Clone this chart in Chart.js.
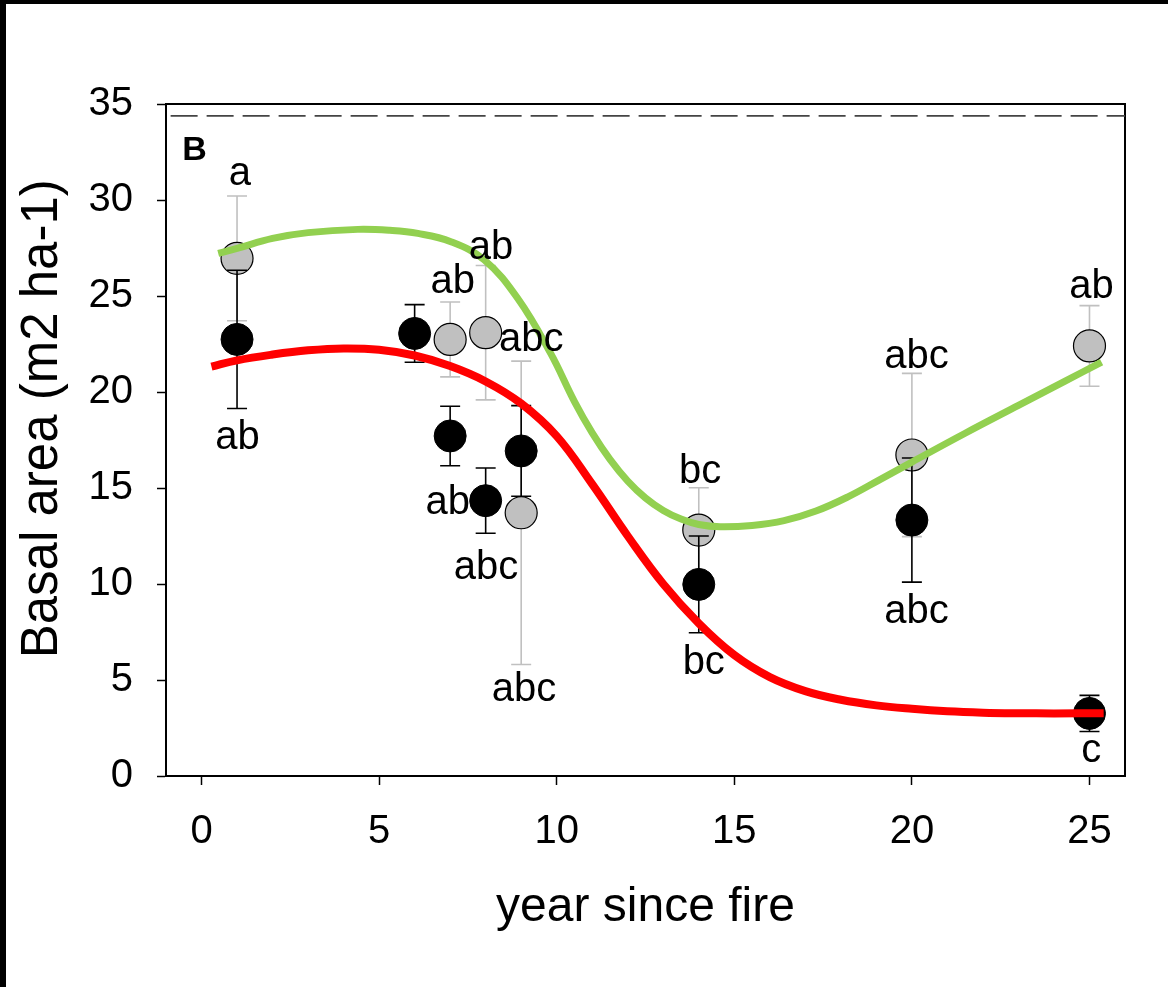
<!DOCTYPE html>
<html>
<head>
<meta charset="utf-8">
<script src="https://cdn.jsdelivr.net/npm/chart.js@4.4.0/dist/chart.umd.min.js"></script>
<style>
html,body{margin:0;padding:0;background:#fff;}
#wrap{position:relative;width:1168px;height:987px;overflow:hidden;}
#c{position:absolute;left:0;top:0;}
.bt{position:absolute;left:0;top:0;width:1168px;height:4px;background:#000;}
.bl{position:absolute;left:0;top:0;width:6px;height:987px;background:#000;}
</style>
</head>
<body>
<div id="wrap"><canvas id="c" width="1168" height="987"></canvas><div class="bt"></div><div class="bl"></div></div>
<script>
// ---- data ----
const yearsGray  = [1, 7, 8, 9, 14, 20, 25];
const basalGray  = [26.96, 22.74, 23.09, 13.71, 12.81, 16.72, 22.40];
const errGray    = [3.25, 1.95, 3.50, 7.90, 2.20, 4.25, 2.10];

const yearsBlack = [1, 6, 7, 8, 9, 14, 20, 25];
const basalBlack = [22.74, 23.05, 17.71, 14.34, 16.93, 9.98, 13.33, 3.26];
const errBlack   = [3.60, 1.50, 1.55, 1.70, 2.36, 2.52, 3.23, 0.94];

const greenFitX = [0.47, 1.0, 2.0, 3.0, 4.4, 5.3, 6.09, 7.02, 7.96, 8.9, 9.83, 10.5, 11.0, 11.5, 12.0, 12.5, 13.0, 13.5, 14.0, 14.6, 15.5, 16.4, 17.3, 18.2, 19.1, 20.0, 21.5, 23.0, 24.3, 25.34];
const greenFitY = [27.22, 27.48, 28.0, 28.3, 28.47, 28.42, 28.26, 27.83, 26.88, 24.88, 22.01, 19.5, 17.87, 16.49, 15.36, 14.48, 13.83, 13.38, 13.1, 12.98, 13.05, 13.3, 13.8, 14.54, 15.44, 16.35, 17.85, 19.3, 20.55, 21.56];

const redFitX = [0.28, 1.0, 2.0, 3.0, 4.0, 5.0, 6.0, 7.0, 8.0, 9.0, 10.0, 11.0, 12.0, 13.0, 14.0, 15.0, 16.0, 17.0, 18.0, 19.0, 20.0, 21.0, 22.0, 23.0, 24.0, 25.4];
const redFitY = [21.32, 21.65, 21.95, 22.17, 22.27, 22.2, 21.9, 21.35, 20.55, 19.4, 17.7, 15.2, 12.5, 10.0, 7.95, 6.3, 5.15, 4.42, 3.97, 3.68, 3.5, 3.37, 3.3, 3.27, 3.26, 3.27];

const refLineX = [-0.87, 26];
const refLineY = [34.38, 34.38];

const xTicks = [0, 5, 10, 15, 20, 25];
const yTicks = [0, 5, 10, 15, 20, 25, 30, 35];

const letterText = ['a', 'ab', 'ab', 'ab', 'abc', 'ab', 'abc', 'abc', 'bc', 'bc', 'abc', 'abc', 'ab', 'c'];
const letterX    = [1.08, 1.01, 7.07, 8.15, 9.28, 6.93, 8.01, 9.08, 14.04, 14.14, 20.13, 20.13, 25.06, 25.05];
const letterY    = [30.78, 17.03, 25.18, 26.95, 22.14, 13.63, 10.24, 3.91, 15.28, 5.30, 21.27, 7.99, 24.88, 0.73];

const panelLabel = 'B';
const panelX = -0.2, panelY = 32.08;

const xTitle = 'year since fire';
const yTitle = '   Basal area (m2 ha-1)';

// ---- build ----
const FONT = "Arial, 'Liberation Sans', Helvetica, sans-serif";
const toPts = (xs, ys) => xs.map((v, i) => ({x: v, y: ys[i]}));

const errorBarPlugin = {
  id: 'errbars',
  beforeDatasetDraw(chart, args) {
    const ds = chart.data.datasets[args.index];
    if (!ds.errors) return;
    const {ctx} = chart;
    const xs = chart.scales.x, ys = chart.scales.y;
    ctx.save();
    ctx.strokeStyle = ds.errorColor;
    ctx.lineWidth = 1.6;
    ds.data.forEach((p, i) => {
      const e = ds.errors[i];
      const px = xs.getPixelForValue(p.x);
      const top = ys.getPixelForValue(p.y + e);
      const bot = ys.getPixelForValue(p.y - e);
      ctx.beginPath();
      ctx.moveTo(px, top); ctx.lineTo(px, bot);
      ctx.moveTo(px - 10, top); ctx.lineTo(px + 10, top);
      ctx.moveTo(px - 10, bot); ctx.lineTo(px + 10, bot);
      ctx.stroke();
    });
    ctx.restore();
  }
};

const labelPlugin = {
  id: 'letters',
  afterDatasetsDraw(chart) {
    const {ctx} = chart;
    const xs = chart.scales.x, ys = chart.scales.y;
    ctx.save();
    ctx.fillStyle = '#000';
    ctx.textAlign = 'center';
    ctx.textBaseline = 'alphabetic';
    ctx.font = '40px ' + FONT;
    letterText.forEach((t, i) => {
      ctx.fillText(t, xs.getPixelForValue(letterX[i]), ys.getPixelForValue(letterY[i]));
    });
    ctx.font = 'bold 34px ' + FONT;
    ctx.fillText(panelLabel, xs.getPixelForValue(panelX), ys.getPixelForValue(panelY));
    ctx.restore();
  }
};

new Chart(document.getElementById('c'), {
  type: 'scatter',
  data: {
    datasets: [
      { type: 'line', data: toPts(greenFitX, greenFitY), borderColor: '#92d050', borderWidth: 7,
        pointRadius: 0, tension: 0.4, fill: false, order: 0 },
      { type: 'line', data: toPts(redFitX, redFitY), borderColor: '#ff0000', borderWidth: 8,
        pointRadius: 0, tension: 0.4, fill: false, order: 1 },
      { type: 'line', data: toPts(refLineX, refLineY), borderColor: '#444444', borderWidth: 1.6,
        borderDash: [27, 9], pointRadius: 0, fill: false, order: 2 },
      { data: toPts(yearsBlack, basalBlack), errors: errBlack, errorColor: '#000000',
        backgroundColor: '#000000', borderColor: '#000000', borderWidth: 1, pointRadius: 16, order: 3 },
      { data: toPts(yearsGray, basalGray), errors: errGray, errorColor: '#c0c0c0',
        backgroundColor: '#c0c0c0', borderColor: '#000000', borderWidth: 1.2, pointRadius: 16, order: 4 }
    ]
  },
  options: {
    responsive: false,
    animation: false,
    events: [],
    layout: { padding: { top: 104, right: 43, left: 0, bottom: 0 } },
    plugins: { legend: { display: false }, tooltip: { enabled: false } },
    scales: {
      x: {
        type: 'linear', position: 'bottom', min: -1, max: 26,
        afterBuildTicks: (s) => { s.ticks = xTicks.map(v => ({value: v})); },
        afterFit: (s) => { s.height = 211; },
        grid: { display: true, drawOnChartArea: false, drawTicks: true, tickLength: 9, tickColor: '#000', tickWidth: 1.5 },
        border: { display: true, color: '#000', width: 2 },
        ticks: { color: '#000', font: { family: FONT, size: 40 }, padding: 23, maxRotation: 0 },
        title: { display: true, text: xTitle, color: '#000', font: { family: FONT, size: 48 }, padding: { top: 0, bottom: 50 } }
      },
      y: {
        type: 'linear', position: 'left', min: 0, max: 35,
        afterBuildTicks: (s) => { s.ticks = yTicks.map(v => ({value: v})); },
        afterFit: (s) => { s.width = 166; },
        grid: { display: true, drawOnChartArea: false, drawTicks: true, tickLength: 9, tickColor: '#000', tickWidth: 1.5 },
        border: { display: true, color: '#000', width: 2 },
        ticks: { color: '#000', font: { family: FONT, size: 40 }, padding: 24 },
        title: { display: true, text: yTitle, color: '#000', font: { family: FONT, size: 51 }, padding: { top: 12, bottom: 0 } }
      },
      x2: {
        type: 'linear', position: 'top', min: -1, max: 26,
        afterFit: (s) => { s.height = 0; },
        grid: { display: false, drawTicks: false },
        border: { display: true, color: '#000', width: 2 },
        ticks: { display: false }
      },
      y2: {
        type: 'linear', position: 'right', min: 0, max: 35,
        afterFit: (s) => { s.width = 0; },
        grid: { display: false, drawTicks: false },
        border: { display: true, color: '#000', width: 2 },
        ticks: { display: false }
      }
    }
  },
  plugins: [errorBarPlugin, labelPlugin]
});
</script>
</body>
</html>
